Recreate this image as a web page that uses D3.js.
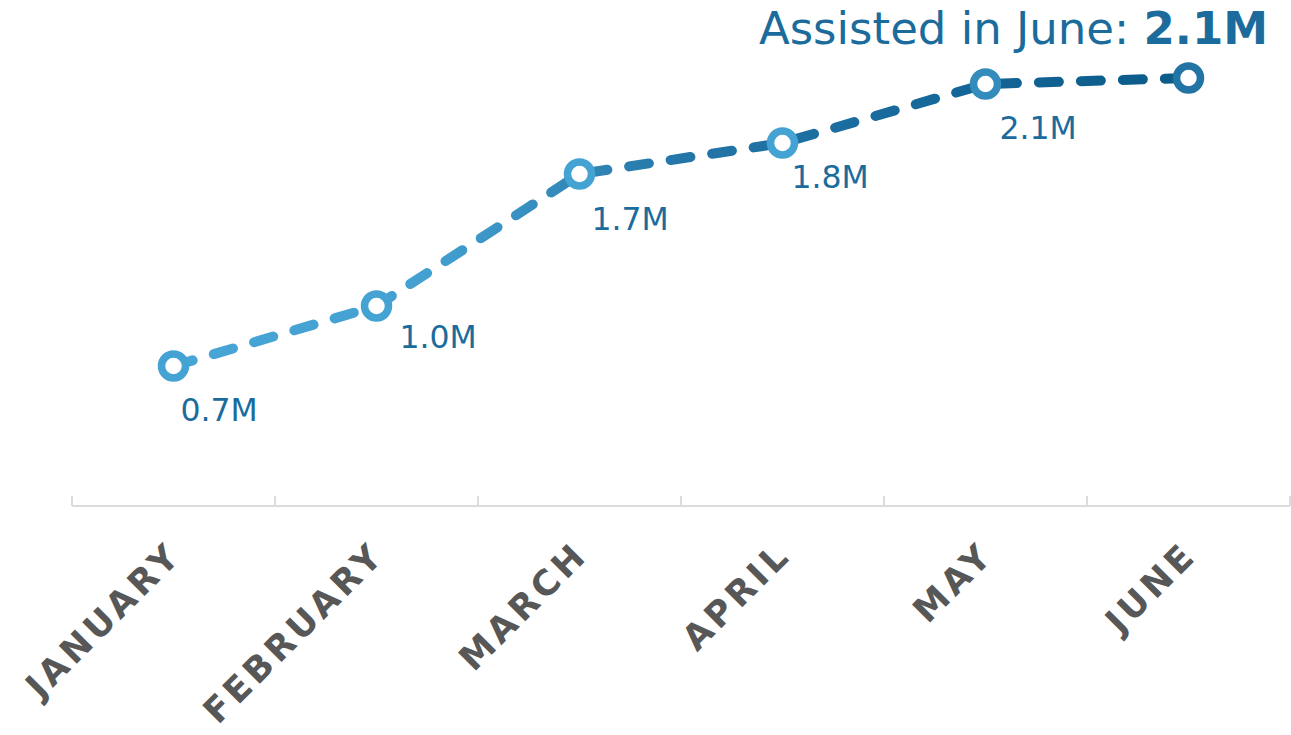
<!DOCTYPE html>
<html>
<head>
<meta charset="utf-8">
<script src="https://cdn.jsdelivr.net/npm/d3@7"></script>
<style>
  html, body { margin: 0; padding: 0; background: #fff; }
  svg { display: block; font-family: "DejaVu Sans", Verdana, sans-serif; }
</style>
</head>
<body>
<svg id="chart" width="1291" height="735"></svg>
<script>
// ---- data ----
const months = ["JANUARY", "FEBRUARY", "MARCH", "APRIL", "MAY", "JUNE"];
const assisted = [0.70, 1.00, 1.66, 1.815, 2.11, 2.14]; // millions
const titleText = "Assisted in June: ";
const labelMonths = ["JANUARY", "FEBRUARY", "MARCH", "APRIL", "MAY"]; // points with value labels

// ---- layout / style ----
const W = 1291, H = 735;
const plot = { left: 72, right: 1290, top: 6, bottom: 506 };
const labelDy = [55, 42, 56, 45, 55];
const labelDx = [7, 23, 12, 9, 14];
const textBlue = "#1b6c9c";

const svg = d3.select("#chart");

const x = d3.scaleBand().domain(months).range([plot.left, plot.right]).padding(0);
const y = d3.scaleLinear().domain([0, 2.5]).range([plot.bottom, plot.top]);
const cx = m => x(m) + x.bandwidth() / 2;

// gradient for line
const defs = svg.append("defs");
const grad = defs.append("linearGradient")
  .attr("id", "lineGrad")
  .attr("gradientUnits", "userSpaceOnUse")
  .attr("x1", cx(months[0])).attr("y1", 0)
  .attr("x2", cx(months[months.length - 1])).attr("y2", 0);
[[0, "#48a6d6"], [0.25, "#43a0d0"], [0.5, "#2476a8"], [0.75, "#16679a"], [1, "#0a5b87"]]
  .forEach(([o, c]) => grad.append("stop").attr("offset", o).attr("stop-color", c));

// axis
const axisG = svg.append("g").attr("class", "x-axis");
axisG.append("line")
  .attr("x1", plot.left).attr("x2", plot.right)
  .attr("y1", plot.bottom).attr("y2", plot.bottom)
  .attr("stroke", "#dcdcdc").attr("stroke-width", 2);
const edges = months.map(m => x(m)).concat([x(months[months.length - 1]) + x.bandwidth()]);
axisG.selectAll("line.tick").data(edges).join("line")
  .attr("class", "tick")
  .attr("x1", d => d).attr("x2", d => d)
  .attr("y1", plot.bottom).attr("y2", plot.bottom - 10)
  .attr("stroke", "#dcdcdc").attr("stroke-width", 2);

axisG.selectAll("text.mlabel").data(months).join("text")
  .attr("class", "mlabel")
  .attr("transform", d => `translate(${cx(d) + 10},${plot.bottom + 51}) rotate(-45)`)
  .attr("text-anchor", "end")
  .attr("font-size", 35)
  .attr("font-weight", "bold")
  .attr("letter-spacing", 4)
  .attr("fill", "#575757")
  .text(d => d);

// line
const pts = months.map((m, i) => ({ m, v: assisted[i], i }));
const line = d3.line().x(d => cx(d.m)).y(d => y(d.v));
svg.append("path")
  .datum(pts)
  .attr("d", line)
  .attr("fill", "none")
  .attr("stroke", "url(#lineGrad)")
  .attr("stroke-width", 10)
  .attr("stroke-linecap", "round")
  .attr("stroke-linejoin", "round")
  .attr("stroke-dasharray", "20,22");

// markers
const markerColor = d3.scaleLinear().domain([3, 5]).range(["#45a3d3", "#2174a4"]).clamp(true);
svg.selectAll("circle.pt").data(pts).join("circle")
  .attr("class", "pt")
  .attr("cx", d => cx(d.m)).attr("cy", d => y(d.v))
  .attr("r", 12)
  .attr("fill", "#fff")
  .attr("stroke", d => markerColor(d.i))
  .attr("stroke-width", 7.5);

// value labels
const fmt = v => d3.format(".1f")(v) + "M";
svg.selectAll("text.vlabel").data(pts.filter(d => labelMonths.includes(d.m))).join("text")
  .attr("class", "vlabel")
  .attr("x", d => cx(d.m) + labelDx[d.i])
  .attr("y", d => y(d.v) + labelDy[d.i])
  .attr("font-size", 31.5)
  .attr("fill", textBlue)
  .text(d => fmt(d.v));

// title
const title = svg.append("text")
  .attr("x", 1268).attr("y", 44)
  .attr("text-anchor", "end")
  .attr("font-size", 45)
  .attr("fill", textBlue);
title.append("tspan").text(titleText);
title.append("tspan").attr("font-weight", "bold").text(fmt(assisted[assisted.length - 1]));
</script>
</body>
</html>
